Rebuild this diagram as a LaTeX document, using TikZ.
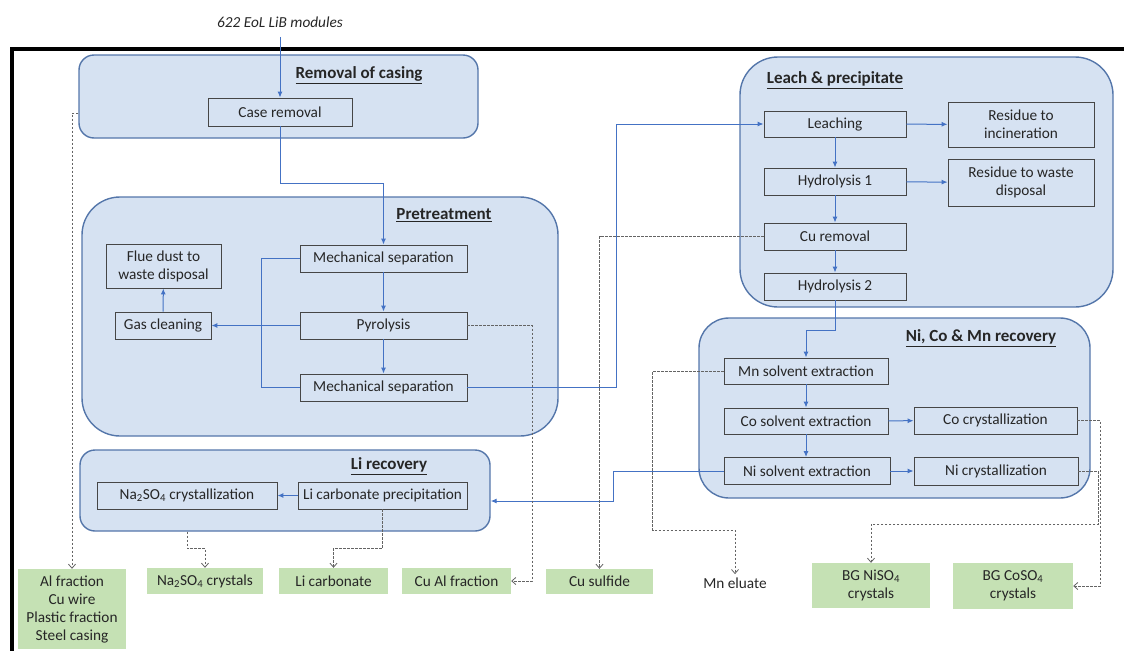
\documentclass[tikz,border=0pt]{standalone}
\usepackage{fontspec}
\setmainfont{Carlito}
\usepackage{tikz}
\usetikzlibrary{calc,arrows.meta}
\usepackage{color}
\definecolor{groupfill}{RGB}{214,226,242}
\definecolor{groupline}{RGB}{84,118,170}
\definecolor{flowblue}{RGB}{68,114,196}
\definecolor{prodgreen}{RGB}{197,225,180}
\definecolor{boxline}{RGB}{70,70,70}
\definecolor{dashgrey}{RGB}{100,100,100}

\begin{document}
\begin{tikzpicture}[x=1pt,y=-1pt,
  every node/.style={font=\fontsize{15.3}{18}\selectfont, text=black!85},
  group/.style={draw=groupline, line width=1.4pt, fill=groupfill, inner sep=0pt, rounded corners=#1},
  group/.default=15pt,
  proc/.style={draw=boxline, line width=0.9pt, inner sep=0pt, align=center},
  prod/.style={fill=prodgreen, inner sep=0pt, align=center},
  grouptitle/.style={font=\fontsize{17}{20}\selectfont\bfseries},
  flow/.style={draw=flowblue, line width=1pt, -{Latex[length=6pt,width=5pt]}},
  link/.style={draw=flowblue, line width=1pt},
  spill/.style={draw=dashgrey, line width=0.8pt, dash pattern=on 2.5pt off 1.5pt, -{Straight Barb[length=4pt,width=7pt]}}]
\useasboundingbox (0,0) rectangle (1124,651);

% frame
\draw[line width=4pt] (1124,49) -- (12,49) -- (12,651);

% the five process groups
\node[group, minimum width=399pt, minimum height=83pt] (removal) at (278.5,96.5) {};
\node[group=38pt, minimum width=476pt, minimum height=239pt] (pretreat) at (320,316.5) {};
\node[group, minimum width=410pt, minimum height=81pt] (li) at (285,490.5) {};
\node[group=38pt, minimum width=373pt, minimum height=250pt] (leach) at (926.5,182) {};
\node[group=30pt, minimum width=391pt, minimum height=180pt] (nicomn) at (894.5,408) {};

\node[grouptitle] at (359,75) {\underline{Removal of casing}};
\node[grouptitle] at (444,215) {\underline{Pretreatment}};
\node[grouptitle] at (389,466) {\underline{Li recovery}};
\node[grouptitle] at (835,80) {\underline{Leach \& precipitate}};
\node[grouptitle] at (981,338) {\underline{Ni, Co \& Mn recovery}};

% input
\node[font=\fontsize{15.3}{18}\selectfont\itshape] (src) at (280,22) {622 EoL LiB modules};

% process steps
\node[proc, minimum width=144pt, minimum height=28pt] (caserem) at (280,112) {Case removal};
\node[proc, minimum width=167pt, minimum height=27pt] (mech1) at (383.5,258.5) {Mechanical separation};
\node[proc, minimum width=167pt, minimum height=27pt] (pyro) at (383.5,325.5) {Pyrolysis};
\node[proc, minimum width=167pt, minimum height=27pt] (mech2) at (383.5,387.5) {Mechanical separation};
\node[proc, minimum width=96pt, minimum height=27pt] (gascl) at (163,325.5) {Gas cleaning};
\node[proc, minimum width=115pt, minimum height=44pt] (flue) at (163.5,266) {Flue dust to\\waste disposal};
\node[proc, minimum width=142pt, minimum height=26pt] (leaching) at (835,124) {Leaching};
\node[proc, minimum width=142pt, minimum height=27pt] (hydro1) at (835,181.5) {Hydrolysis 1};
\node[proc, minimum width=142pt, minimum height=27pt] (curem) at (835,236.5) {Cu removal};
\node[proc, minimum width=142pt, minimum height=27pt] (hydro2) at (835,286.5) {Hydrolysis 2};
\node[proc, minimum width=146pt, minimum height=45pt] (resinc) at (1021,124.5) {Residue to\\incineration};
\node[proc, minimum width=146pt, minimum height=47pt] (reswaste) at (1021,182.5) {Residue to waste\\disposal};
\node[proc, minimum width=164pt, minimum height=26pt] (mnsx) at (806,371) {Mn solvent extraction};
\node[proc, minimum width=164pt, minimum height=26pt] (cosx) at (806,421) {Co solvent extraction};
\node[proc, minimum width=166pt, minimum height=27pt] (nisx) at (807,471) {Ni solvent extraction};
\node[proc, minimum width=163pt, minimum height=27pt] (cocr) at (995.5,420.5) {Co crystallization};
\node[proc, minimum width=164pt, minimum height=28pt] (nicr) at (996,471) {Ni crystallization};
\node[proc, minimum width=180pt, minimum height=27pt] (nacr) at (187,495.5) {Na\textsubscript{2}SO\textsubscript{4} crystallization};
\node[proc, minimum width=169pt, minimum height=27pt] (licp) at (382.5,495.5) {Li carbonate precipitation};

% products
\node[prod, minimum width=108pt, minimum height=80pt] (alfr) at (72,609) {Al fraction\\Cu wire\\Plastic fraction\\Steel casing};
\node[prod, minimum width=116pt, minimum height=26pt] (nacrys) at (205,581) {Na\textsubscript{2}SO\textsubscript{4} crystals};
\node[prod, minimum width=109pt, minimum height=26pt] (licarb) at (333.5,581) {Li carbonate};
\node[prod, minimum width=109pt, minimum height=26pt] (cualfr) at (456.5,581) {Cu Al fraction};
\node[prod, minimum width=107pt, minimum height=25pt] (cusulf) at (599.5,581.5) {Cu sulfide};
\node (mneluate) at (735,583) {Mn eluate};
\node[prod, minimum width=118pt, minimum height=45pt] (niso) at (871,585.5) {BG NiSO\textsubscript{4}\\crystals};
\node[prod, minimum width=120pt, minimum height=46pt] (coso) at (1013,586) {BG CoSO\textsubscript{4}\\crystals};

% main flow
\draw[flow] ([yshift=-6pt]src.south) -- (caserem.north);
\draw[flow] (caserem.south) -- ++(0,57) -| (mech1.north);
\draw[flow] (mech1) -- (pyro);
\draw[flow] (pyro) -- (mech2);
\draw[flow] (pyro) -- (gascl);
\draw[flow] (gascl) -- (flue);
\draw[link] (mech1.west) -- ++(-38,0) |- (mech2.west);
\draw[flow] (mech2.east) -- ++(149,0) |- (leaching.west);
\draw[flow] (leaching) -- (hydro1);
\draw[flow] (hydro1) -- (curem);
\draw[flow] (curem) -- (hydro2);
\draw[flow] (leaching) -- (resinc);
\draw[flow] (hydro1) -- (reswaste);
\draw[flow] (hydro2.south) -- ++(0,30) -| (mnsx.north);
\draw[flow] (mnsx) -- (cosx.north -| mnsx.south);
\draw[flow] (cosx) -- (cosx |- nisx.north);
\draw[flow] (cosx) -- (cocr);
\draw[flow] (nisx) -- (nicr);
\draw[flow] (nisx.west) -- ++(-110,0) |- ([yshift=-10.5pt]li.east);
\draw[flow] (licp) -- (nacr);

% side streams to products
\draw[spill] ([yshift=-16.5pt]removal.west) -| (alfr.north);
\draw[spill] (pyro.east) -- ++(65,0) |- (cualfr.east);
\draw[spill] (curem.west) -| (cusulf.north);
\draw[spill] (mnsx.west) -- ++(-71,0) -- ++(0,159) -| (mneluate.north);
\draw[spill] (licp.south) -- ++(0,39) -| (licarb.north);
\draw[spill] (nacr.south |- li.south) -- ++(0,17) -| (nacrys.north);
\draw[spill] (cocr.east) -- ++(23,0) |- (coso.east);
\draw[spill] (nicr.east) -- ++(20,0) -- ++(0,53) -| (niso.north);
\end{tikzpicture}
\end{document}
